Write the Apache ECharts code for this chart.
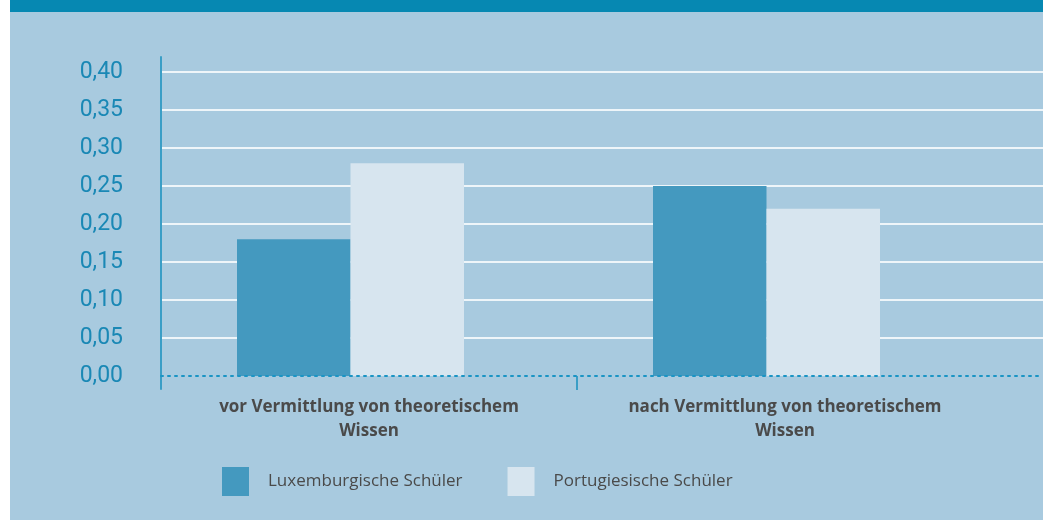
<!DOCTYPE html>
<html>
<head>
<meta charset="utf-8">
<script src="https://cdn.jsdelivr.net/npm/echarts@6/dist/echarts.min.js"></script>
<style>
  html, body { margin: 0; padding: 0; background: #ffffff; }
  #chart { position: absolute; left: 10px; top: 0; width: 1033px; height: 520px; }
</style>
</head>
<body>
<div id="chart"></div>
<script>
// Daten
const categories = [
  'vor Vermittlung von theoretischem\nWissen',
  'nach Vermittlung von theoretischem\nWissen'
];
const seriesNames = ['Luxemburgische Schüler', 'Portugiesische Schüler'];
const luxValues = [0.18, 0.25];
const portValues = [0.28, 0.22];
const yTickLabels = ['0,00', '0,05', '0,10', '0,15', '0,20', '0,25', '0,30', '0,35', '0,40'];
const yMin = 0, yMax = 0.40, yStep = 0.05;

const darkBlue = '#4499bf';
const lightBlue = '#d7e5ef';
const axisBlue = '#3a9ec6';

const chart = echarts.init(document.getElementById('chart'));

// split lines: the one at 0 stays hidden (dotted axis line sits there)
const splitColors = yTickLabels.map((_, i) => i === 0 ? 'rgba(0,0,0,0)' : '#eef5f9');

const option = {
  backgroundColor: '#a8cadf',
  animation: false,
  graphic: [
    { type: 'rect', shape: { x: 0, y: 0, width: 1033, height: 12 }, style: { fill: '#0688b2' } }
  ],
  grid: [
    { left: 151, right: 0, top: 72, bottom: 144 },        // Raster + y-Beschriftung
    { left: 151, width: 832, top: 72, bottom: 144 },      // Kategorien
    { left: 132.5, width: 832, top: 72, bottom: 144 },    // Balken
    { left: 151, width: 10, top: 57, bottom: 131 }        // y-Achsenlinie
  ],
  xAxis: [
    {
      gridIndex: 0, type: 'value', min: 0, max: 1, z: 5,
      axisLine: { show: true, lineStyle: { color: '#1a94c4', width: 2, type: [2, 5] } },
      axisTick: { show: false }, axisLabel: { show: false }, splitLine: { show: false }
    },
    {
      gridIndex: 1, type: 'category', data: categories,
      axisLine: { show: false },
      axisTick: { show: false },
      axisLabel: {
        margin: 19, color: '#4a4a4a', fontFamily: 'Open Sans', fontWeight: 'bold',
        fontSize: 17, lineHeight: 24, interval: 0
      },
      splitLine: { show: false }
    },
    { gridIndex: 2, type: 'category', data: categories, show: false },
    { gridIndex: 3, type: 'value', min: 0, max: 1, show: false },
    {
      // Trennstrich zwischen den Kategorien
      gridIndex: 1, type: 'value', min: 0, max: categories.length, position: 'bottom',
      axisLine: { show: false }, axisLabel: { show: false }, splitLine: { show: false },
      axisTick: { show: true, length: 14, customValues: [1], lineStyle: { color: axisBlue, width: 2 } }
    }
  ],
  yAxis: [
    {
      gridIndex: 0, type: 'value', min: yMin, max: yMax, interval: yStep,
      axisLine: { show: false }, axisTick: { show: false },
      axisLabel: {
        margin: 38, color: '#1a88b5', fontFamily: 'Roboto', fontSize: 23,
        formatter: (v) => yTickLabels[Math.round(v / yStep)]
      },
      splitLine: { show: true, lineStyle: { color: splitColors, width: 2 } }
    },
    { gridIndex: 1, type: 'value', min: yMin, max: yMax, show: false },
    { gridIndex: 2, type: 'value', min: yMin, max: yMax, show: false },
    {
      gridIndex: 3, type: 'value', min: 0, max: 1,
      axisLine: { show: true, lineStyle: { color: axisBlue, width: 2 } },
      axisTick: { show: false }, axisLabel: { show: false }, splitLine: { show: false }
    }
  ],
  legend: {
    left: 212, top: 467, padding: 0,
    itemWidth: 27, itemHeight: 29, itemGap: 45,
    icon: 'rect',
    data: seriesNames,
    textStyle: { color: '#4a4a4a', fontFamily: 'Open Sans', fontSize: 17, padding: [0, 0, 0, 14] }
  },
  series: [
    {
      name: seriesNames[0], type: 'bar', xAxisIndex: 2, yAxisIndex: 2,
      data: luxValues, barWidth: 113.5, barGap: '0%',
      itemStyle: { color: darkBlue }
    },
    {
      name: seriesNames[1], type: 'bar', xAxisIndex: 2, yAxisIndex: 2,
      data: portValues, barWidth: 113.5, barGap: '0%',
      itemStyle: { color: lightBlue }
    }
  ]
};

chart.setOption(option);
</script>
</body>
</html>
